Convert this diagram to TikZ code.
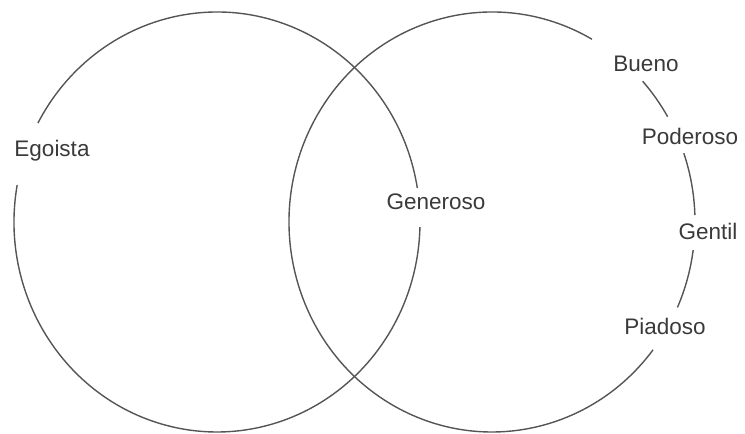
\documentclass[tikz,border=0pt]{standalone}
\usepackage{fontspec}
\setmainfont{Liberation Sans}
\definecolor{linegray}{HTML}{555555}
\definecolor{textgray}{HTML}{3A3A3A}
\begin{document}
\begin{tikzpicture}[x=1pt,y=1pt,
  ring/.style={draw=linegray, line width=1.4pt},
  lbl/.style={inner sep=0pt, anchor=base, text=textgray, font=\fontsize{22.5}{26}\selectfont}]
\useasboundingbox (0,0) rectangle (745,434);
\coordinate (L) at (217,212);
\coordinate (R) at (492,212);
% left ellipse
\draw[ring] (L) ++(9.3:203 and 210) arc[start angle=9.3, end angle=151.9, x radius=203, y radius=210];
\draw[ring] (L) ++(169.9:203 and 210) arc[start angle=169.9, end angle=358.6, x radius=203, y radius=210];
% right ellipse
\draw[ring] (R) ++(60.5:203 and 210) arc[start angle=60.5, end angle=322.5, x radius=203, y radius=210];
\draw[ring] (R) ++(30.1:203 and 210) arc[start angle=30.1, end angle=42.1, x radius=203, y radius=210];
\draw[ring] (R) ++(1.9:203 and 210) arc[start angle=1.9, end angle=19.1, x radius=203, y radius=210];
\draw[ring] (R) ++(-24:203 and 210) arc[start angle=-24, end angle=-7.7, x radius=203, y radius=210];
% labels
\node[lbl] (ego) at (52,277) {Egoista};
\node[lbl] (gen) at (436,224) {Generoso};
\node[lbl] (bue) at (646,362) {Bueno};
\node[lbl] (pod) at (690,289) {Poderoso};
\node[lbl] (gent) at (708,194) {Gentil};
\node[lbl] (pia) at (665,99) {Piadoso};
\end{tikzpicture}
\end{document}
